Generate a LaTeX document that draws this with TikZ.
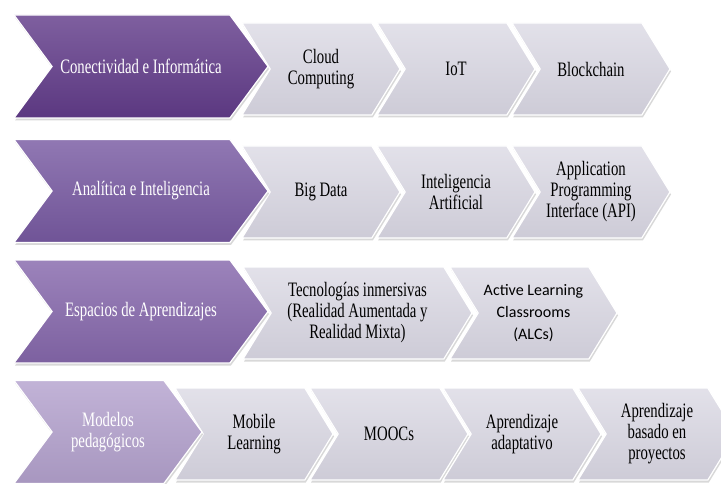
\documentclass[tikz,border=0pt]{standalone}
\usepackage{fontspec}
\setmainfont{Liberation Serif}[FakeStretch=0.72]
\newfontfamily\calfont{Carlito}
\usepackage{tikz}
\usetikzlibrary{shapes.symbols, shadows}
\definecolor{MorUno}{RGB}{98,60,138}
\definecolor{MorDos}{RGB}{120,90,162}
\definecolor{MorTres}{RGB}{134,104,172}
\definecolor{MorCuatro}{RGB}{180,162,206}
\definecolor{GrisLila}{RGB}{214,212,224}

\begin{document}
\begin{tikzpicture}[x=1pt, y=-1pt,
      chev/.style={signal, signal to=east, signal from=west, inner sep=0pt,
                   align=center, draw=white, line width=1.2pt,
                   drop shadow={opacity=0.3, shadow xshift=1pt, shadow yshift=-2.5pt},
                   font=\fontsize{20.5}{21}\selectfont},
      ebox/.style={chev, signal pointer angle=107, minimum height=103pt,
                   top color=#1!82!white, bottom color=#1!93!black, text=white},
      tbox/.style={chev, signal pointer angle=117, minimum height=92pt,
                   minimum width=158pt, top color=GrisLila!70!white,
                   bottom color=GrisLila!96!black, text=black}
    ]
    \useasboundingbox[fill=white] (0,0) rectangle (721,484);

    % fila 1
    \node[tbox] (cloud) at (321,69) {Cloud\\Computing};
    \node[tbox] (iot)   at (456,69) {IoT};
    \node[tbox] (block) at (591,69) {Blockchain};
    \node[ebox=MorUno, minimum width=254pt] (conect) at (141,66.5)
          {Conectividad e Informática};

    % fila 2
    \node[tbox] (bigdata) at (321,192) {Big Data};
    \node[tbox] (ia)      at (456,192) {Inteligencia\\Artificial};
    \node[tbox] (api)     at (591,192) {Application\\Programming\\Interface (API)};
    \node[ebox=MorDos, minimum width=254pt] (analit) at (141,191)
          {Analítica e Inteligencia};

    % fila 3
    \node[tbox, minimum width=229pt] (tecinm) at (357.5,313)
          {Tecnologías inmersivas\\(Realidad Aumentada y\\Realidad Mixta)};
    \node[tbox, minimum width=167pt, font=\calfont\fontsize{16}{22}\selectfont] (alc)
          at (533.5,313) {Active Learning\\Classrooms\\(ALCs)};
    \node[ebox=MorTres, minimum width=254pt] (espacios) at (141,311.5)
          {Espacios de Aprendizajes};

    % fila 4
    \node[tbox] (mobile)    at (254,434) {Mobile\\Learning};
    \node[tbox] (moocs)     at (389,434) {MOOCs};
    \node[tbox] (adapt)     at (522,434) {Aprendizaje\\adaptativo};
    \node[tbox] (proyectos) at (657,434) {Aprendizaje\\basado en\\proyectos};
    \node[ebox=MorCuatro, minimum width=188pt] (modelos) at (108,432)
          {Modelos\\pedagógicos};
  \end{tikzpicture}
\end{document}
